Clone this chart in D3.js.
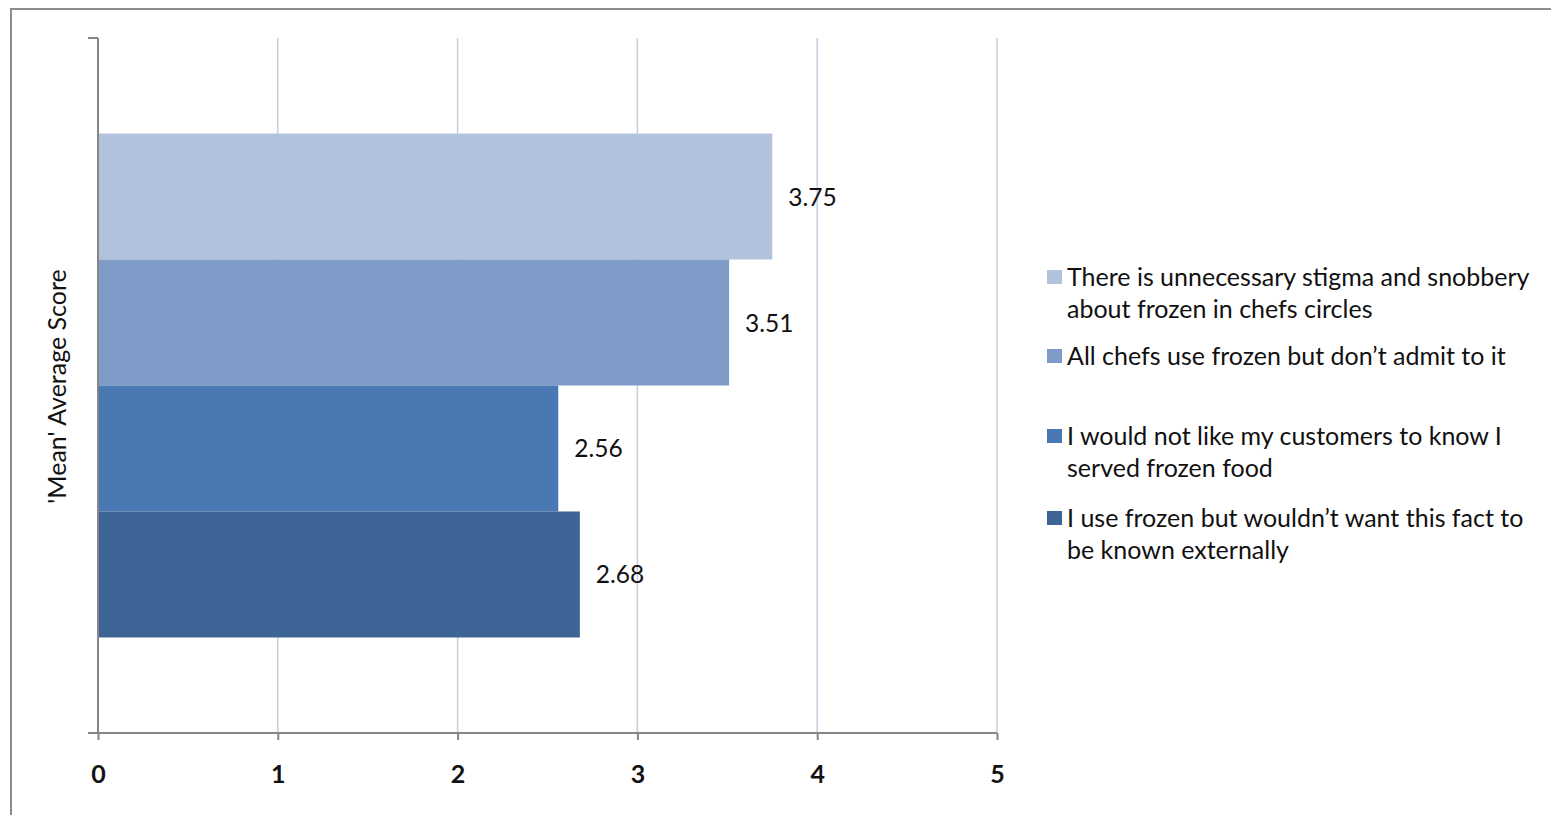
<!DOCTYPE html>
<html><head><meta charset="utf-8">
<script src="https://cdn.jsdelivr.net/npm/d3@7"></script>
<style>
html,body{margin:0;padding:0;background:#fff;}
svg{display:block;font-family:Lato,"Open Sans",sans-serif;}
</style></head>
<body>
<svg id="chart" width="1551" height="815"></svg>
<script>
// ---- data ----
const seriesNames = [
  "There is unnecessary stigma and snobbery|about frozen in chefs circles",
  "All chefs use frozen but don\u2019t admit to it",
  "I would not like my customers to know I|served frozen food",
  "I use frozen but wouldn\u2019t want this fact to|be known externally"
];
const seriesValues = [3.75, 3.51, 2.56, 2.68];
const seriesColors = ["#b3c2dc", "#7f9bc7", "#4a78b2", "#3d6495"];
const xTicks = [0, 1, 2, 3, 4, 5];
const axisTitle = "'Mean' Average Score";

// ---- layout ----
const svg = d3.select("#chart");
const W = 1551, H = 815;
const plot = {left: 98, right: 997, top: 38, bottom: 733};

// outer chart border
svg.append("rect").attr("x", 11).attr("y", 9).attr("width", W + 10).attr("height", H + 10)
  .attr("fill", "#fff").attr("stroke", "#8c8c8c").attr("stroke-width", 2);

const x = d3.scaleLinear().domain([0, 5]).range([plot.left, plot.right]);
const y = d3.scaleBand().domain(d3.range(seriesNames.length))
  .range([plot.top, plot.bottom]).paddingInner(0).paddingOuter(0.758);

// gridlines
svg.append("g").selectAll("line").data(xTicks.filter(d => d > 0)).join("line")
  .attr("x1", d => x(d)).attr("x2", d => x(d))
  .attr("y1", plot.top).attr("y2", plot.bottom)
  .attr("stroke", "#c5cede").attr("stroke-width", 1.5);

// bars
svg.append("g").selectAll("rect").data(seriesValues).join("rect")
  .attr("x", x(0)).attr("y", (d, i) => y(i))
  .attr("width", d => x(d) - x(0)).attr("height", y.bandwidth())
  .attr("fill", (d, i) => seriesColors[i]);

// data labels
svg.append("g").selectAll("text").data(seriesValues).join("text")
  .attr("x", d => x(d) + 16).attr("y", (d, i) => y(i) + y.bandwidth() / 2 + 9)
  .attr("font-size", 24.5).attr("fill", "#111")
  .text(d => d.toFixed(2));

// y axis line (left) with top tick
const axisColor = "#868686";
svg.append("line").attr("x1", plot.left).attr("x2", plot.left)
  .attr("y1", plot.top).attr("y2", plot.bottom).attr("stroke", axisColor).attr("stroke-width", 2);
svg.append("line").attr("x1", plot.left - 10).attr("x2", plot.left)
  .attr("y1", plot.top).attr("y2", plot.top).attr("stroke", axisColor).attr("stroke-width", 2);

// x axis
const xAxis = d3.axisBottom(x).tickValues(xTicks).tickFormat(d3.format("d")).tickSize(7).tickPadding(25);
const gx = svg.append("g").attr("transform", `translate(0,${plot.bottom})`).call(xAxis);
gx.select(".domain").remove();
gx.append("line").attr("x1", plot.left - 10).attr("x2", plot.right).attr("y1", 0).attr("y2", 0)
  .attr("stroke", axisColor).attr("stroke-width", 2);
gx.selectAll(".tick line").attr("stroke", axisColor).attr("stroke-width", 2);
gx.selectAll(".tick text").attr("font-size", 25).attr("font-weight", "bold")
  .attr("fill", "#111").attr("font-family", "Lato, sans-serif");

// y axis title
svg.append("text")
  .attr("transform", `translate(66,${(plot.top + plot.bottom) / 2 + 1}) rotate(-90)`)
  .attr("text-anchor", "middle").attr("font-size", 25).attr("fill", "#111")
  .text(axisTitle);

// legend
const legendX = 1047;
const legendBaselines = [286, 365, 445, 527];
const lg = svg.append("g");
seriesNames.forEach((name, i) => {
  const base = legendBaselines[i];
  lg.append("rect").attr("x", legendX).attr("y", base - 16).attr("width", 15).attr("height", 14)
    .attr("fill", seriesColors[i]);
  const t = lg.append("text").attr("x", legendX + 20).attr("y", base)
    .attr("font-size", 25).attr("fill", "#111");
  name.split("|").forEach((ln, j) => {
    t.append("tspan").attr("x", legendX + 20).attr("y", base + j * 31.5).text(ln);
  });
});
</script>
</body></html>
